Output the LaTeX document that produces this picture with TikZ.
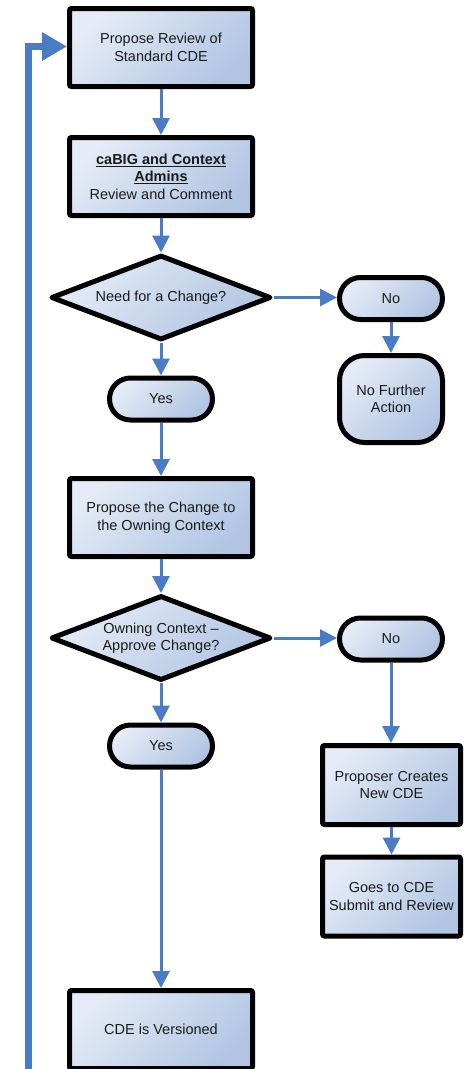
\documentclass[tikz,border=0pt]{standalone}
\usepackage{fontspec}
\setmainfont{Liberation Sans}
\usetikzlibrary{shapes.geometric,arrows.meta}
\definecolor{flowblue}{HTML}{4A7CC6}
\definecolor{filllight}{HTML}{E4EBF6}
\definecolor{filldark}{HTML}{B1C5E3}
\definecolor{textgray}{HTML}{1A1A1A}
\tikzset{
  shaded/.style={top color=filllight, bottom color=filldark, shading angle=45},
  label text/.style={text=textgray, align=center, font=\fontsize{14.5}{17.5}\selectfont, inner sep=0pt},
  base/.style={shaded, draw=black, line width=5pt, label text, inner sep=2pt},
  stepbox/.style={base, rectangle, rounded corners=2pt, minimum width=183pt, minimum height=78pt},
  sidebox/.style={base, rectangle, rounded corners=2pt, minimum width=138pt, minimum height=79pt},
  decision/.style={base, diamond, line join=round, minimum width=220pt, minimum height=85pt, inner sep=0pt},
  terminal/.style={base, rectangle, rounded corners=21pt, minimum width=103pt, minimum height=42pt},
  flow/.style={draw=flowblue, line width=3pt, -{Triangle[length=17pt,width=17pt]}},
  loopback/.style={draw=flowblue, line width=6.5pt, -{Triangle[length=25pt,width=27pt]}},
}
\begin{document}
\begin{tikzpicture}[x=1pt, y=-1pt]
  \useasboundingbox (0,0) rectangle (464,1069);

  % main column
  \node[stepbox] (propose) at (161,47.5) {Propose Review of\\Standard CDE};
  \node[stepbox] (admins) at (161,176.5) {\underline{\textbf{caBIG and Context}}\\\underline{\textbf{Admins}}\\Review and Comment};
  \node[decision] (need) at (161,297.5) {};
  \node[label text] (needtext) at (need) {Need for a Change?};
  \node[terminal] (yes1) at (161,399) {Yes};
  \node[stepbox] (change) at (161,517.5) {Propose the Change to\\the Owning Context};
  \node[decision] (approve) at (161,638) {};
  \node[label text] (approvetext) at (approve) {Owning Context –\\Approve Change?};
  \node[terminal] (yes2) at (161,746) {Yes};
  \node[stepbox] (versioned) at (161,1029.5) {CDE is Versioned};

  % right-hand branches
  \node[terminal] (no1) at (391,298.5) {No};
  \node[base, rectangle, rounded corners=25pt, minimum width=103pt, minimum height=87pt] (noaction) at (391,399) {No Further\\Action};
  \node[terminal] (no2) at (391,639) {No};
  \node[sidebox] (newcde) at (391.5,785) {Proposer Creates\\New CDE};
  \node[sidebox] (submit) at (391.5,896.5) {Goes to CDE\\Submit and Review};

  % connectors
  \draw[flow] (propose) -- (admins);
  \draw[flow] (admins) -- (need);
  \draw[flow] (need) -- (yes1);
  \draw[flow] (yes1) -- (change);
  \draw[flow] (change) -- (approve);
  \draw[flow] (approve) -- (yes2);
  \draw[flow] (yes2) -- (versioned);
  \draw[flow] (need.east) -- (no1.west |- need.east);
  \draw[flow] (no1) -- (noaction);
  \draw[flow] (approve.east) -- (no2.west |- approve.east);
  \draw[flow] (no2) -- (newcde.north -| no2.south);
  \draw[flow] (newcde) -- (submit);

  % feedback loop back to the start
  \coordinate (loopstart) at (28.5,1080);
  \draw[loopback] (loopstart) |- ([yshift=1pt]propose.west);
\end{tikzpicture}
\end{document}
